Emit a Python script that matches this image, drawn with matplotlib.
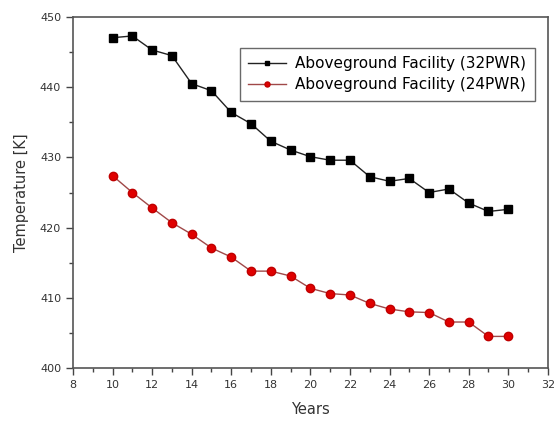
import matplotlib
matplotlib.use("Agg")
import matplotlib.pyplot as plt
from matplotlib.ticker import MultipleLocator

years = list(range(10, 31))
pwr32 = [447.05, 447.3, 445.3, 444.5, 440.5, 439.5, 436.4, 434.8, 432.3, 431.05,
         430.1, 429.6, 429.6, 427.25, 426.6, 427.0, 425.0, 425.5, 423.5, 422.3, 422.6]
pwr24 = [427.4, 425.0, 422.8, 420.7, 419.05, 417.1, 415.8, 413.8, 413.8, 413.1,
         411.35, 410.6, 410.4, 409.2, 408.4, 408.0, 407.9, 406.55, 406.55, 404.5, 404.5]

plt.rcParams["font.family"] = ["DejaVu Sans"]

fig = plt.figure(figsize=(5.55, 4.21), dpi=100)
ax = fig.add_axes([0.1315, 0.1259, 0.8555, 0.8337])

ax.plot(years, pwr32, color="#222222", lw=1.0, marker="s", ms=5.5,
        mfc="black", mec="black", label="Aboveground Facility (32PWR)")
ax.plot(years, pwr24, color="#a04848", lw=1.0, marker="o", ms=6,
        mfc="#e00000", mec="#c00000", label="Aboveground Facility (24PWR)")

ax.set_xlim(8, 32)
ax.set_ylim(400, 450)
ax.xaxis.set_major_locator(MultipleLocator(2))
ax.xaxis.set_minor_locator(MultipleLocator(1))
ax.yaxis.set_major_locator(MultipleLocator(10))
ax.yaxis.set_minor_locator(MultipleLocator(5))
ax.tick_params(which="major", direction="out", length=5, width=1, colors="#444444",
               labelsize=8, labelcolor="#333333")
ax.tick_params(which="minor", direction="out", length=3, width=1, colors="#444444")
for s in ax.spines.values():
    s.set_color("#555555")
    s.set_linewidth(1.2)

ax.set_xlabel("Years", fontsize=10.5, color="#333333", labelpad=9)
ax.set_ylabel("Temperature [K]", fontsize=10.5, color="#333333", labelpad=8)

leg = ax.legend(loc="upper right", bbox_to_anchor=(0.9726, 0.912), borderaxespad=0,
                fontsize=11, frameon=True, fancybox=False, edgecolor="#444444",
                handlelength=2.5, markerscale=0.6, borderpad=0.55,
                labelspacing=0.4, handletextpad=0.6)
leg.get_frame().set_linewidth(1.0)

fig.savefig("out.png", dpi=100)
